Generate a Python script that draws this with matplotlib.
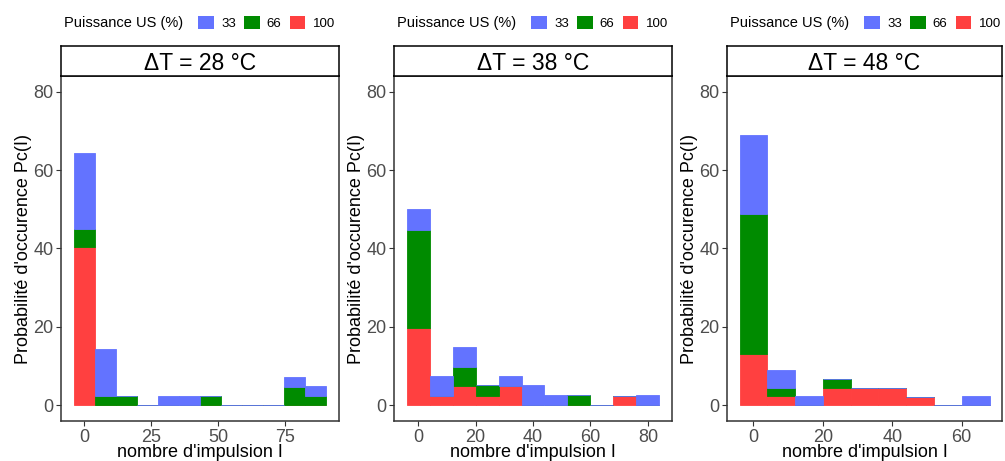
import numpy as np
import matplotlib.pyplot as plt
from matplotlib.patches import Patch

plt.rcParams['font.family'] = ['Liberation Sans', 'DejaVu Sans']

panels = ['ΔT = 28 °C', 'ΔT = 38 °C', 'ΔT = 48 °C']
groups = ['33', '66', '100']
colors = {'33': '#6373FF', '66': '#008B00', '100': '#FF4040'}

# largeur des classes (histogramme centré sur 0)
binwidths = [7.85, 8, 8]

# Pc(I) en % pour chaque classe, par puissance US
p28_33 = [19.4, 12.1, 0, 0, 2.5, 2.5, 0, 0, 0, 0, 2.5, 2.5]
p28_66 = [4.6, 2.3, 2.4, 0, 0, 0, 2.4, 0, 0, 0, 4.8, 2.4]
p28_100 = [40.3, 0, 0, 0, 0, 0, 0, 0, 0, 0, 0, 0]

p38_33 = [5.2, 5.1, 5.1, 0, 2.6, 5.1, 2.6, 0, 0, 0, 2.6]
p38_66 = [25.0, 0, 4.9, 2.6, 0, 0, 0, 2.6, 0, 0, 0]
p38_100 = [19.8, 2.4, 4.9, 2.5, 4.9, 0, 0, 0, 0, 2.5, 0]

p48_33 = [20.2, 4.8, 2.4, 0, 0, 0, 0, 0, 2.3]
p48_66 = [35.7, 2.0, 0, 2.5, 0, 0, 0, 0, 0]
p48_100 = [13.0, 2.3, 0, 4.3, 4.3, 4.3, 2.1, 0, 0]

data = [
    {'33': p28_33, '66': p28_66, '100': p28_100},
    {'33': p38_33, '66': p38_66, '100': p38_100},
    {'33': p48_33, '66': p48_66, '100': p48_100},
]
xticks = [[0, 25, 50, 75], [0, 20, 40, 60, 80], [0, 20, 40, 60]]

W, H = 1005, 461
fig = plt.figure(figsize=(W / 100, H / 100), dpi=100)

lefts = [61, 394, 727]
rights = [339, 672, 1002]
top, bottom, strip_top = 76, 421, 46

for k in range(3):
    l, r = lefts[k], rights[k]
    ax = fig.add_axes([l / W, (H - bottom) / H, (r - l) / W, (bottom - top) / H])
    w = binwidths[k]
    n = len(data[k]['33'])
    centers = np.arange(n) * w
    base = np.zeros(n)
    # empilement : 100 en bas, puis 66, puis 33
    for g in ['100', '66', '33']:
        vals = np.array(data[k][g])
        ax.bar(centers, vals, width=w, bottom=base, color=colors[g],
               edgecolor=colors[g], linewidth=0.6, zorder=2)
        base += vals
    lo, hi = -w / 2, centers[-1] + w / 2
    pad = 0.05 * (hi - lo)
    ax.set_xlim(lo - pad, hi + pad)
    ax.set_ylim(-4, 84)
    ax.set_xticks(xticks[k])
    ax.set_yticks([0, 20, 40, 60, 80])
    ax.tick_params(labelsize=13, colors='#333333', labelcolor='#4D4D4D',
                   length=3.5, width=0.8, pad=2)
    for s in ax.spines.values():
        s.set_color('#333333')
        s.set_linewidth(1.1)
    ax.set_xlabel("nombre d'impulsion I", fontsize=13, labelpad=-1.5)
    ax.set_ylabel("Probabilité d'occurence Pc(I)", fontsize=13, labelpad=1)

    # bandeau du facet
    sax = fig.add_axes([l / W, (H - top) / H, (r - l) / W, (top - strip_top) / H])
    sax.set_xticks([])
    sax.set_yticks([])
    for s in sax.spines.values():
        s.set_color('black')
        s.set_linewidth(1.1)
    sax.text(0.5, 0.42, panels[k], ha='center', va='center', fontsize=16.5,
             transform=sax.transAxes)

    # légende
    fig.text((l + 3) / W, (H - 23) / H, 'Puissance US (%)', ha='left',
             va='center', fontsize=10.5)
    handles = [Patch(facecolor=colors[g], edgecolor='none') for g in groups]
    fig.legend(handles, groups, ncol=3, loc='center left',
               bbox_to_anchor=((l + 137) / W, (H - 23) / H),
               frameon=False, fontsize=9.5, borderpad=0, borderaxespad=0,
               handlelength=1.2, handleheight=1.2, handletextpad=0.55,
               columnspacing=0.6)

fig.savefig('out.png', dpi=100)
